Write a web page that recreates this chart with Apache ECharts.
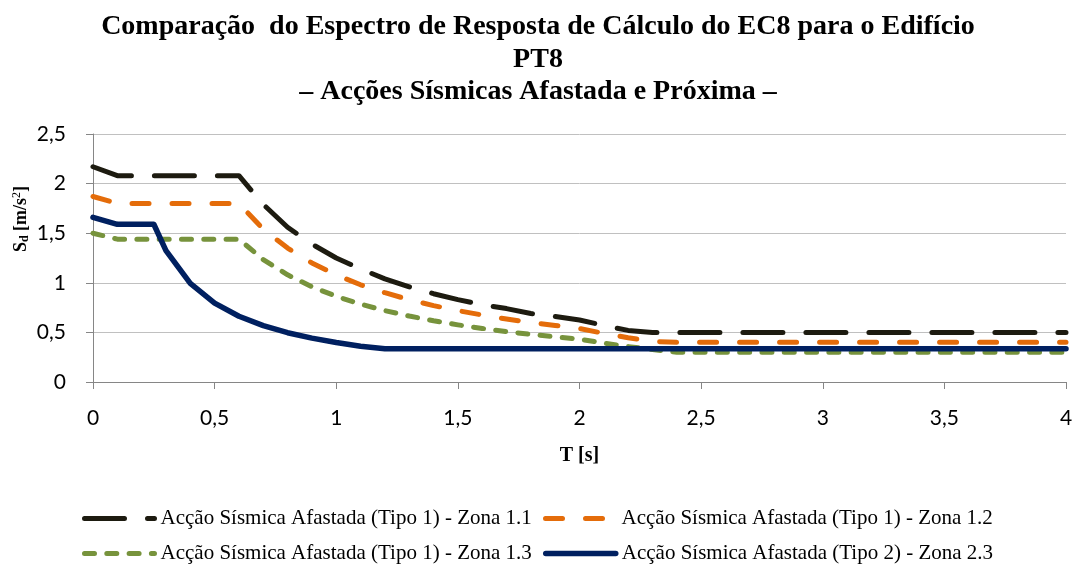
<!DOCTYPE html>
<html>
<head>
<meta charset="utf-8">
<script src="https://cdn.jsdelivr.net/npm/echarts@6/dist/echarts.min.js"></script>
<style>html,body{margin:0;padding:0;background:#fff}#c{width:1076px;height:566px}</style>
</head>
<body>
<div id="c"></div>
<script>
// Period T [s] for the Tipo 1 spectra
const tType1 = [0, 0.1, 0.2, 0.3, 0.4, 0.5, 0.6, 0.7, 0.8, 0.9, 1.0, 1.1, 1.2, 1.3, 1.4, 1.5, 1.6, 1.7, 1.8, 1.9, 2.0, 2.1, 2.2, 2.3, 2.4, 2.5, 3.0, 3.5, 4.0];
const zona11 = [2.17, 2.08, 2.08, 2.08, 2.08, 2.08, 2.08, 1.79, 1.56, 1.39, 1.25, 1.14, 1.04, 0.96, 0.89, 0.83, 0.78, 0.74, 0.69, 0.66, 0.625, 0.57, 0.52, 0.50, 0.50, 0.50, 0.50, 0.50, 0.50];
const zona12 = [1.87, 1.80, 1.80, 1.80, 1.80, 1.80, 1.80, 1.54, 1.35, 1.20, 1.08, 0.98, 0.90, 0.83, 0.77, 0.72, 0.675, 0.635, 0.60, 0.57, 0.54, 0.49, 0.446, 0.408, 0.40, 0.40, 0.40, 0.40, 0.40];
const zona13 = [1.50, 1.44, 1.44, 1.44, 1.44, 1.44, 1.44, 1.234, 1.08, 0.96, 0.864, 0.785, 0.72, 0.665, 0.617, 0.576, 0.54, 0.508, 0.48, 0.455, 0.432, 0.392, 0.357, 0.327, 0.30, 0.30, 0.30, 0.30, 0.30];
// Period T [s] for the Tipo 2 spectrum
const tType2 = [0, 0.1, 0.2, 0.25, 0.3, 0.4, 0.5, 0.6, 0.7, 0.8, 0.9, 1.0, 1.1, 1.2, 2.0, 3.0, 4.0];
const zona23 = [1.66, 1.59, 1.59, 1.59, 1.325, 0.994, 0.795, 0.663, 0.568, 0.497, 0.442, 0.398, 0.361, 0.335, 0.335, 0.335, 0.335];

const seriesNames = [
  'Acção Sísmica Afastada (Tipo 1) - Zona 1.1',
  'Acção Sísmica Afastada (Tipo 1) - Zona 1.2',
  'Acção Sísmica Afastada (Tipo 1) - Zona 1.3',
  'Acção Sísmica Afastada (Tipo 2) - Zona 2.3'
];
const titleLines = [
  'Comparação  do Espectro de Resposta de Cálculo do EC8 para o Edifício',
  'PT8',
  '– Acções Sísmicas Afastada e Próxima –'
];

const pairs = (xs, ys) => xs.map((x, i) => [x, ys[i]]);
const comma = v => String(v).replace('.', ',');

const chart = echarts.init(document.getElementById('c'), null, {renderer: 'canvas'});
const labelFont = 'Lato';
const serif = '"Liberation Serif", "Times New Roman", serif';

const legendPos = [[82, 508], [543, 508], [82, 543], [543, 543]];
const legends = seriesNames.map((n, i) => ({
  data: [n],
  left: legendPos[i][0], top: legendPos[i][1],
  padding: 0,
  itemWidth: 70, itemHeight: 14, itemGap: 8,
  itemStyle: {opacity: 0},
  lineStyle: {width: 'inherit'},
  textStyle: {fontFamily: serif, fontSize: 21, color: '#000', padding: [0, 0, 0, 1]}
}));

chart.setOption({
  animation: false,
  backgroundColor: '#ffffff',
  title: {
    text: titleLines.join('\n'),
    left: 'center',
    top: 6,
    textStyle: {fontFamily: serif, fontWeight: 'bold', fontSize: 28, lineHeight: 32.5, color: '#000'}
  },
  grid: {left: 93, right: 10, top: 134, bottom: 184, containLabel: false, outerBoundsMode: 'none'},
  xAxis: {
    type: 'value', min: 0, max: 4, interval: 0.5,
    name: 'T [s]', nameLocation: 'middle', nameGap: 64,
    nameTextStyle: {fontFamily: serif, fontWeight: 'bold', fontSize: 20, color: '#000'},
    axisLine: {show: true, lineStyle: {color: '#868686', width: 1}},
    axisTick: {show: true, inside: false, length: 7, lineStyle: {color: '#868686'}},
    axisLabel: {fontFamily: labelFont, fontSize: 21, color: '#000', margin: 26, formatter: comma},
    splitLine: {show: false}
  },
  yAxis: {
    type: 'value', min: 0, max: 2.5, interval: 0.5,
    name: '{a|S}{b|d}{a| [m/s}{c|2}{a|]}', nameLocation: 'middle', nameGap: 62, nameRotate: 90,
    nameMoveOverlap: false,
    nameTextStyle: {
      padding: [0, 0, 0, 78],
      rich: {
        a: {fontFamily: serif, fontWeight: 'bold', fontSize: 18, color: '#000'},
        b: {fontFamily: serif, fontWeight: 'bold', fontSize: 12, color: '#000', padding: [8, 0, 0, 0]},
        c: {fontFamily: serif, fontSize: 12, color: '#000', padding: [0, 0, 8, 0]}
      }
    },
    axisLine: {show: true, lineStyle: {color: '#868686', width: 1}},
    axisTick: {show: true, inside: false, length: 7, lineStyle: {color: '#868686'}},
    axisLabel: {fontFamily: labelFont, fontSize: 21, color: '#000', margin: 27, formatter: comma},
    splitLine: {show: true, lineStyle: {color: '#c0c0c0', width: 1}}
  },
  legend: legends,
  series: [
    {
      name: seriesNames[0], type: 'line', data: pairs(tType1, zona11), showSymbol: false, symbol: 'none',
      lineStyle: {color: '#1d1b10', width: 5, type: [40, 23], cap: 'round', join: 'round'},
      itemStyle: {color: '#1d1b10'}, z: 4
    },
    {
      name: seriesNames[1], type: 'line', data: pairs(tType1, zona12), showSymbol: false, symbol: 'none',
      lineStyle: {color: '#e46c0a', width: 5, type: [17, 23], cap: 'round', join: 'round'},
      itemStyle: {color: '#e46c0a'}, z: 3
    },
    {
      name: seriesNames[2], type: 'line', data: pairs(tType1, zona13), showSymbol: false, symbol: 'none',
      lineStyle: {color: '#77933c', width: 5, type: [10, 12.3], cap: 'round', join: 'round'},
      itemStyle: {color: '#77933c'}, z: 2
    },
    {
      name: seriesNames[3], type: 'line', data: pairs(tType2, zona23), showSymbol: false, symbol: 'none',
      lineStyle: {color: '#002060', width: 5.5, type: 'solid', cap: 'round', join: 'round'},
      itemStyle: {color: '#002060'}, z: 5
    }
  ]
});
</script>
</body>
</html>
